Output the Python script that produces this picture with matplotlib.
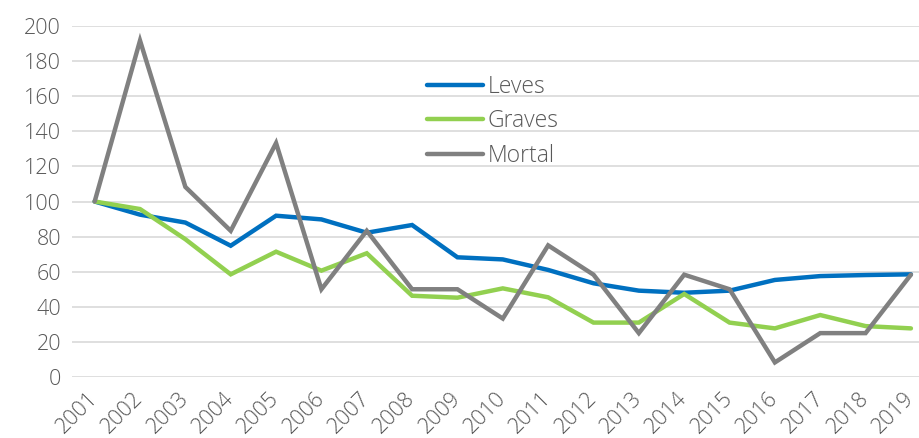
import matplotlib
matplotlib.use("Agg")
import matplotlib.pyplot as plt

years = [str(y) for y in range(2001, 2020)]
leves = [100, 92.5, 88, 74.8, 91.9, 89.8, 82.2, 86.6, 68.2, 67, 61, 53.4, 49.2, 48, 49.2, 55.3, 57.5, 58.1, 58.5]
graves = [100, 95.7, 78.5, 58.5, 71.4, 60.6, 70.5, 46.3, 45.2, 50.5, 45.4, 31, 31, 47.3, 31, 27.7, 35.3, 29, 27.7]
mortal = [100, 191.7, 108.3, 83.3, 133.3, 50, 83.3, 50, 50, 33.3, 75, 58.3, 25, 58.3, 50, 8.3, 25, 25, 58.3]
series_names = ["Leves", "Graves", "Mortal"]
colors = ["#0070C0", "#92D050", "#808080"]
yticks = [0, 20, 40, 60, 80, 100, 120, 140, 160, 180, 200]

plt.rcParams['font.family'] = ['Open Sans', 'DejaVu Sans']
plt.rcParams['font.weight'] = 'light'
W, H = 920, 438
fig = plt.figure(figsize=(W/100, H/100), dpi=100)
ax = fig.add_axes([72/W, 61/H, (W-72)/W, 351/H])

x = list(range(len(years)))
for vals, name, c in zip([leves, graves, mortal], series_names, colors):
    ax.plot(x, vals, color=c, lw=3.2, label=name, solid_capstyle='round', solid_joinstyle='miter', zorder=3)

ax.set_xlim(-0.5, 18.2)
ax.set_ylim(0, 200)
ax.set_yticks(yticks)
ax.set_xticks(x)
ax.set_xticklabels(years, rotation=45, ha='right', va='center', rotation_mode='anchor')
ax.grid(axis='y', color='#D9D9D9', lw=1.2, zorder=0)
ax.set_axisbelow(True)
for s in ax.spines.values():
    s.set_visible(False)
ax.tick_params(axis='both', length=0, labelsize=15.5, labelcolor='#595959')
ax.tick_params(axis='y', pad=8)
ax.tick_params(axis='x', pad=13)

leg = ax.legend(loc='upper left', bbox_to_anchor=(427/W, (H-75)/H), bbox_transform=fig.transFigure,
                frameon=False, fontsize=16.5, handlelength=2.45, handletextpad=0.18,
                labelspacing=0.45, borderpad=0, borderaxespad=0)
for t in leg.get_texts():
    t.set_color('#595959')

fig.savefig("out.png", dpi=100)
